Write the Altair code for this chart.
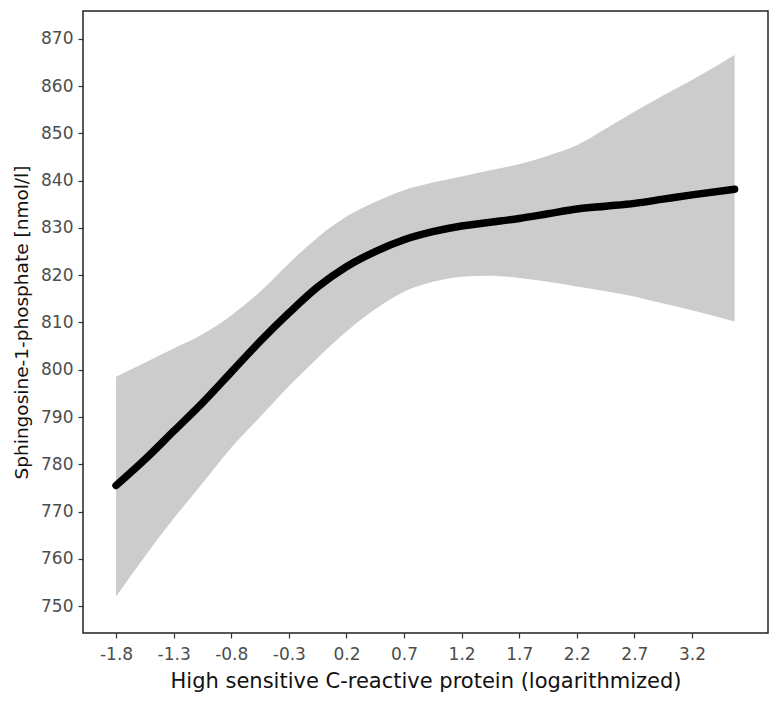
import altair as alt
import pandas as pd

# x positions (log hs-CRP) and fitted values with confidence band
crp = [-1.8, -1.55, -1.3, -1.05, -0.8, -0.55, -0.3, -0.05, 0.2, 0.45, 0.7,
       0.95, 1.2, 1.45, 1.7, 1.95, 2.2, 2.45, 2.7, 2.95, 3.2, 3.57]
fit = [775.5, 781.0, 787.0, 793.0, 799.5, 806.0, 812.0, 817.5, 821.8, 825.0, 827.5,
       829.2, 830.4, 831.2, 832.0, 833.0, 834.0, 834.6, 835.2, 836.1, 837.0, 838.2]
upper = [798.5, 801.5, 804.5, 807.5, 811.5, 816.5, 822.5, 828.0, 832.4, 835.5, 838.0,
         839.6, 840.9, 842.2, 843.5, 845.3, 847.5, 851.0, 854.6, 858.0, 861.3, 866.6]
lower = [752.0, 760.5, 768.5, 776.0, 783.5, 790.0, 796.5, 802.5, 808.1, 812.8, 816.5,
         818.6, 819.7, 819.9, 819.4, 818.6, 817.6, 816.6, 815.5, 814.0, 812.6, 810.2]

x_ticks = [-1.8, -1.3, -0.8, -0.3, 0.2, 0.7, 1.2, 1.7, 2.2, 2.7, 3.2]
y_ticks = list(range(750, 871, 10))

df = pd.DataFrame({"crp": crp, "fit": fit, "upper": upper, "lower": lower})

xscale = alt.Scale(domain=[-2.087, 3.86], nice=False, zero=False)
yscale = alt.Scale(domain=[744.3, 875.9], nice=False, zero=False)

font = "DejaVu Sans"

xaxis = alt.Axis(values=x_ticks,
                 labelExpr="datum.value < 0 ? '-' + format(-datum.value, '.1f') : format(datum.value, '.1f')",
                 title="High sensitive C-reactive protein (logarithmized)",
                 grid=False, domain=False, tickColor="#333333", tickSize=5, tickWidth=1.2,
                 labelColor="#4d4d4d", labelFont=font, labelFontSize=17, labelPadding=8,
                 titleFont=font, titleFontSize=21, titleFontWeight="normal", titleColor="#111111",
                 titlePadding=8)
yaxis = alt.Axis(values=y_ticks, title="Sphingosine-1-phosphate [nmol/l]",
                 grid=False, domain=False, tickColor="#333333", tickSize=5, tickWidth=1.2,
                 labelColor="#4d4d4d", labelFont=font, labelFontSize=17, labelPadding=5,
                 titleFont=font, titleFontSize=18.5, titleFontWeight="normal", titleColor="#111111",
                 titlePadding=9)

band = alt.Chart(df).mark_area(color="#cccccc", opacity=1, interpolate="monotone").encode(
    x=alt.X("crp:Q", scale=xscale, axis=xaxis),
    y=alt.Y("lower:Q", scale=yscale, axis=yaxis),
    y2="upper:Q",
)

line = alt.Chart(df).mark_line(color="black", strokeWidth=7.5, strokeCap="round",
                               strokeJoin="round", interpolate="monotone").encode(
    x=alt.X("crp:Q", scale=xscale),
    y=alt.Y("fit:Q", scale=yscale),
)

chart = (band + line).properties(
    width=685, height=622,
    autosize=alt.AutoSizeParams(type="none"),
    padding={"left": 75, "top": 3, "right": 3, "bottom": 70},
    background="white",
).configure_view(stroke="#222222", strokeWidth=1.5)

chart.save("out.html", embed_options={"renderer": "svg", "actions": False})
